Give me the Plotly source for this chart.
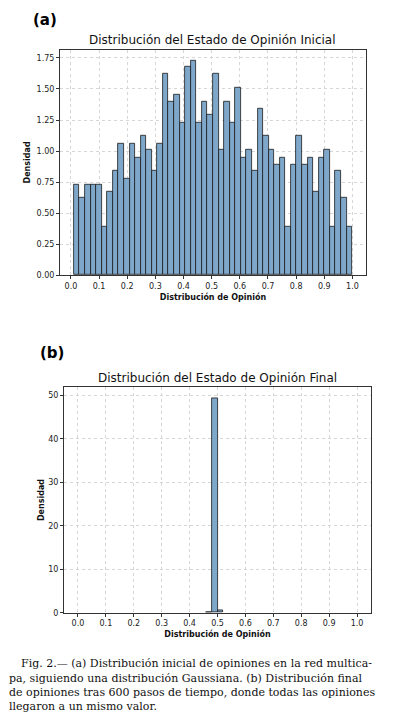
import plotly.graph_objects as go

# The page body has an 8px margin, so the figure is sized/offset to fit the 393x719 window.
WIN_W, WIN_H = 393, 719
OFF = 8
W, H = WIN_W - OFF, WIN_H - OFF

# ---------------- data ----------------
initial_bin_start = 0.0107
initial_bin_width = 0.01976
initial_density = [
    0.73, 0.62, 0.73, 0.73, 0.73, 0.39, 0.67, 0.84, 1.06, 0.78,
    1.06, 0.95, 1.12, 1.01, 0.84, 1.06, 1.62, 1.40, 1.45, 1.23,
    1.68, 1.73, 1.23, 1.40, 1.29, 1.62, 1.01, 1.40, 1.23, 1.51,
    0.95, 1.01, 0.84, 1.34, 1.12, 1.01, 0.89, 0.95, 0.39, 0.89,
    1.12, 0.89, 0.95, 0.67, 0.95, 1.01, 0.39, 0.84, 0.62, 0.39,
]
final_bin_left = [0.46, 0.48, 0.50]
final_bin_width = 0.02
final_density = [0.06, 49.4, 0.5]

x_ticks = [0.0, 0.1, 0.2, 0.3, 0.4, 0.5, 0.6, 0.7, 0.8, 0.9, 1.0]
y_ticks_a = [0.0, 0.25, 0.5, 0.75, 1.0, 1.25, 1.5, 1.75]
y_ticks_b = [0, 10, 20, 30, 40, 50]

title_a = "Distribución del Estado de Opinión Inicial"
title_b = "Distribución del Estado de Opinión Final"
xlabel = "Distribución de Opinión"
ylabel = "Densidad"
caption_lines = [
    "Fig. 2.— (a) Distribución inicial de opiniones en la red multica-",
    "pa, siguiendo una distribución Gaussiana. (b) Distribución final",
    "de opiniones tras 600 pasos de tiempo, donde todas las opiniones",
    "llegaron a un mismo valor.",
]

# ---------------- helpers (window pixel -> paper coords) ----------------
def px(x):
    return (x - OFF) / W

def py(y):
    return 1 - (y - OFF) / H

BAR_COLOR = "#7ea7ca"
EDGE = "#1a1a1a"
SANS = "DejaVu Sans"

fig = go.Figure()

centers_a = [initial_bin_start + (i + 0.5) * initial_bin_width for i in range(len(initial_density))]
fig.add_trace(go.Bar(
    x=centers_a, y=initial_density, width=initial_bin_width,
    marker=dict(color=BAR_COLOR, line=dict(color=EDGE, width=0.8)),
    xaxis="x", yaxis="y", showlegend=False,
))
centers_b = [l + final_bin_width / 2 for l in final_bin_left]
fig.add_trace(go.Bar(
    x=centers_b, y=final_density, width=final_bin_width,
    marker=dict(color=BAR_COLOR, line=dict(color=EDGE, width=0.8)),
    xaxis="x2", yaxis="y2", showlegend=False,
))

axis_common = dict(
    showline=True, mirror=True, linecolor="#333333", linewidth=1,
    ticks="outside", ticklen=3, tickwidth=1, tickcolor="#333333",
    showgrid=True, gridcolor="#d6d6d6", griddash="dot", gridwidth=1,
    zeroline=False, tickfont=dict(family=SANS, size=8, color="#222222"),
)
xt_font = dict(family=SANS, size=8, color="#111")

a_min = initial_bin_start
a_max = initial_bin_start + initial_bin_width * len(initial_density)
a_pad = 0.05 * (a_max - a_min)

fig.update_layout(
    width=W, height=H,
    margin=dict(l=0, r=0, t=0, b=0),
    paper_bgcolor="white", plot_bgcolor="white",
    bargap=0,
    xaxis=dict(axis_common, domain=[px(60), px(366)], anchor="y",
               range=[a_min - a_pad, a_max + a_pad],
               tickvals=x_ticks, tickformat=".1f",
               title=dict(text="<b>" + xlabel + "</b>", font=xt_font, standoff=4)),
    yaxis=dict(axis_common, domain=[py(277), py(50)], anchor="x",
               range=[0, max(initial_density) * 1.05],
               tickvals=y_ticks_a, tickformat=".2f",
               title=dict(text="<b>" + ylabel + "</b>", font=xt_font, standoff=4)),
    xaxis2=dict(axis_common, domain=[px(64), px(371)], anchor="y2",
                range=[-0.05, 1.05],
                tickvals=x_ticks, tickformat=".1f",
                title=dict(text="<b>" + xlabel + "</b>", font=xt_font, standoff=4)),
    yaxis2=dict(axis_common, domain=[py(617), py(390)], anchor="x2",
                range=[0, max(final_density) * 1.05],
                tickvals=y_ticks_b,
                title=dict(text="<b>" + ylabel + "</b>", font=xt_font, standoff=2)),
)

ann = []
ann.append(dict(x=px(44.5), y=py(20), xref="paper", yref="paper", xanchor="center", yanchor="middle",
                text="<b>(a)</b>", showarrow=False, font=dict(family=SANS, size=15, color="black")))
ann.append(dict(x=px(52), y=py(355), xref="paper", yref="paper", xanchor="center", yanchor="middle",
                text="<b>(b)</b>", showarrow=False, font=dict(family=SANS, size=15, color="black")))
ann.append(dict(x=px(213), y=py(40), xref="paper", yref="paper", xanchor="center", yanchor="middle",
                text=title_a, showarrow=False, font=dict(family=SANS, size=12, color="#111")))
ann.append(dict(x=px(218), y=py(381), xref="paper", yref="paper", xanchor="center", yanchor="middle",
                text=title_b, showarrow=False, font=dict(family=SANS, size=12, color="#111")))
cap_y = [668, 683, 697, 711]
cap_x = [20, 8, 8, 8]
for t, yy, xx in zip(caption_lines, cap_y, cap_x):
    ann.append(dict(x=px(xx), y=py(yy), xref="paper", yref="paper", xanchor="left", yanchor="middle",
                    borderpad=0,
                    text=t, showarrow=False, font=dict(family="DejaVu Serif", size=11.0, color="#111")))
fig.update_layout(annotations=ann)

fig.write_html("out.html")
